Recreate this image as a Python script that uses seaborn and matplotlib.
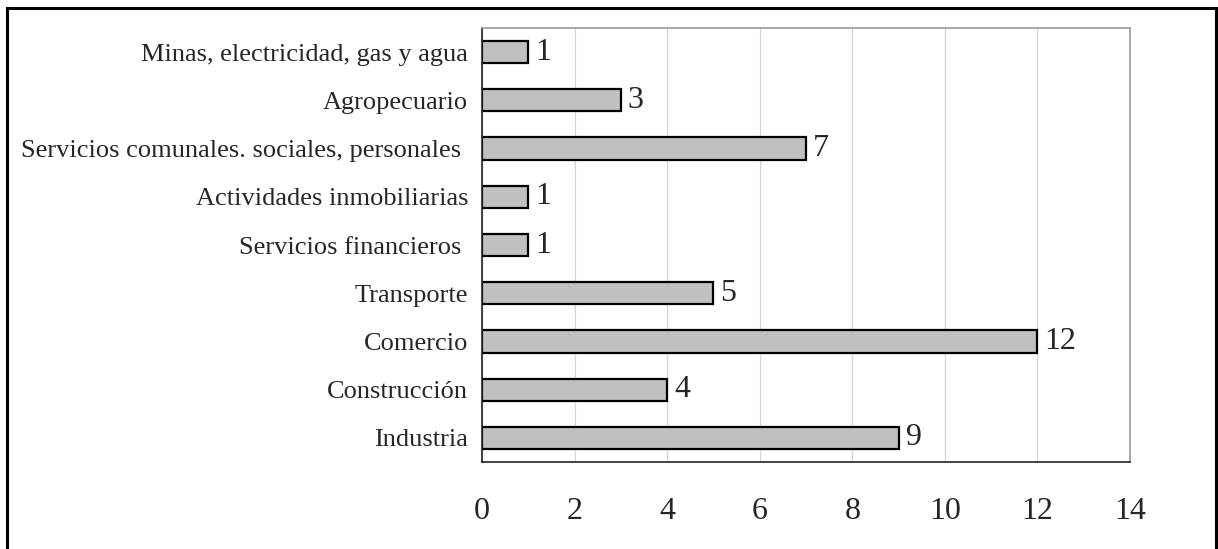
import matplotlib
matplotlib.use("Agg")
import matplotlib.pyplot as plt
import seaborn as sns
import numpy as np
import pandas as pd
from matplotlib.patches import Rectangle

# Data
sectores = ["Minas, electricidad, gas y agua", "Agropecuario",
            "Servicios comunales. sociales, personales ", "Actividades inmobiliarias",
            "Servicios financieros ", "Transporte", "Comercio", "Construcción", "Industria"]
valores = [1, 3, 7, 1, 1, 5, 12, 4, 9]
xticks = [0, 2, 4, 6, 8, 10, 12, 14]

sns.set_style("white")
plt.rcParams["font.family"] = ["Liberation Serif", "DejaVu Serif"]

df = pd.DataFrame({"sector": sectores, "valor": valores})

fig = plt.figure(figsize=(12.18, 5.49), dpi=100)
ax = fig.add_axes([482 / 1218, 1 - 462 / 549, 648 / 1218, 434 / 549])

sns.barplot(data=df, x="valor", y="sector", orient="h", color="#c0c0c0",
            edgecolor="black", linewidth=1.6, width=0.46, saturation=1, ax=ax)

ax.set_xlim(0, 14)
ax.set_ylim(len(sectores) - 0.5, -0.5)
ax.set_xticks(xticks)
ax.set_xticklabels([str(t) for t in xticks])
ax.set_xlabel("")
ax.set_ylabel("")

ax.xaxis.grid(True, color="#d4d4d4", linewidth=0.9)
ax.yaxis.grid(False)
ax.set_axisbelow(True)

for side in ["top", "right"]:
    ax.spines[side].set_color("#999999")
    ax.spines[side].set_linewidth(1.2)
for side in ["left", "bottom"]:
    ax.spines[side].set_color("#222222")
    ax.spines[side].set_linewidth(1.2)

# category labels without ticks; tick marks between categories
ax.tick_params(axis="y", which="major", length=0, pad=10, labelsize=19)
ax.set_yticks(np.arange(-0.5, len(sectores), 1), minor=True)
ax.tick_params(axis="y", which="minor", length=7, width=1, color="black", direction="out")
ax.tick_params(axis="x", which="major", length=7, width=1, color="black",
               direction="out", pad=18, labelsize=23)

ax.bar_label(ax.containers[0], labels=[str(v) for v in valores], padding=5, fontsize=23)

# outer frame
fig.patches.append(Rectangle((7 / 1218, -0.05), 1209 / 1218, 1.05 - 8 / 549,
                             transform=fig.transFigure, fill=False,
                             edgecolor="black", linewidth=2.2))

fig.savefig("out.png", dpi=100)
